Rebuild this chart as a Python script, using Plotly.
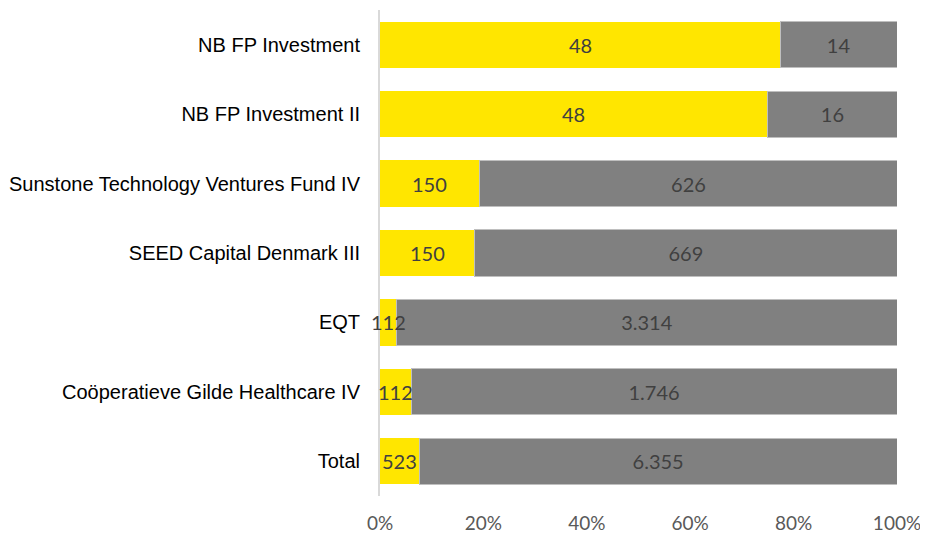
import plotly.graph_objects as go

categories = ["NB FP Investment", "NB FP Investment II", "Sunstone Technology Ventures Fund IV",
              "SEED Capital Denmark III", "EQT", "Coöperatieve Gilde Healthcare IV", "Total"]
yellow_vals = [48, 48, 150, 150, 112, 112, 523]
gray_vals = [14, 16, 626, 669, 3314, 1746, 6355]
x_ticks = [0, 20, 40, 60, 80, 100]
x_tick_labels = ["0%", "20%", "40%", "60%", "80%", "100%"]


def fmt(v):
    return f"{v:,}".replace(",", ".")


label_font = dict(family="Lato, Open Sans, sans-serif", size=20, color="#404040")

# centre of the yellow segment in percent units (derived from data)
yellow_mid = [100.0 * y / (y + g) / 2 for y, g in zip(yellow_vals, gray_vals)]

fig = go.Figure()
fig.add_trace(go.Bar(
    y=categories, x=yellow_vals, orientation="h",
    marker=dict(color="#FFE600", line=dict(width=0)),
    hoverinfo="skip",
))
fig.add_trace(go.Bar(
    y=categories, x=gray_vals, orientation="h",
    marker=dict(color="#808080", line=dict(width=1, color="#BFBFBF")),
    text=[fmt(v) for v in gray_vals], textposition="inside", textangle=0,
    insidetextanchor="middle", textfont=label_font, insidetextfont=label_font,
    constraintext="none", hoverinfo="skip",
))
for cat, xm, v in zip(categories, yellow_mid, yellow_vals):
    fig.add_annotation(x=xm, y=cat, xref="x", yref="y", text=fmt(v),
                       showarrow=False, font=label_font, xanchor="center", yanchor="middle")

fig.update_layout(
    width=920, height=528,
    barmode="stack", barnorm="percent", bargap=0.335,
    showlegend=False,
    plot_bgcolor="white", paper_bgcolor="white",
    margin=dict(l=372, r=31, t=2, b=40),
    uniformtext=dict(minsize=20, mode="show"),
    xaxis=dict(
        range=[0, 100], tickvals=x_ticks, ticktext=x_tick_labels,
        showgrid=False, zeroline=False, showline=False, automargin=False,
        ticks="outside", ticklen=10, tickcolor="rgba(0,0,0,0)",
        tickfont=dict(family="Lato, Open Sans, sans-serif", size=19, color="#595959"),
    ),
    yaxis=dict(
        autorange="reversed", showgrid=False, zeroline=False, automargin=False,
        showline=True, linecolor="#D9D9D9", linewidth=2,
        ticks="outside", ticklen=14, tickcolor="rgba(0,0,0,0)",
        tickfont=dict(family="Liberation Sans Narrow, Arial Narrow, Liberation Sans, sans-serif",
                      size=20, color="#000000"),
    ),
)

fig.write_html("out.html")
